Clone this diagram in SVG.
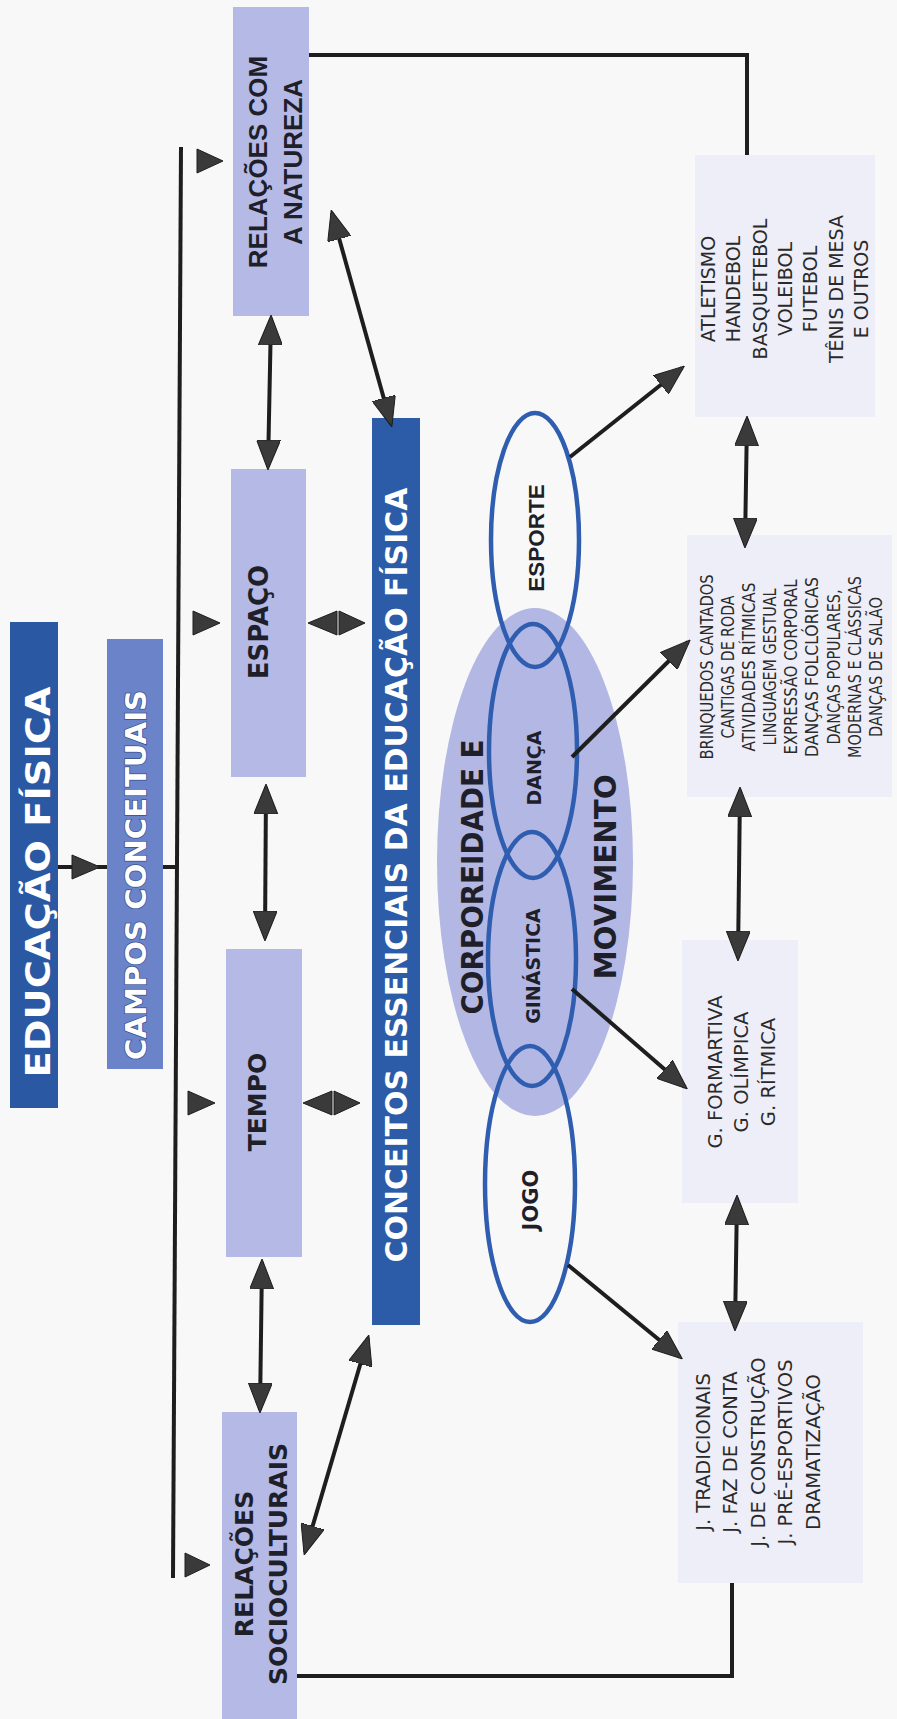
<svg xmlns="http://www.w3.org/2000/svg" width="897" height="1719" viewBox="0 0 897 1719">
<defs>
<style>
.lb{fill:#b5b9e6}
.rb{fill:#eeeef8}
.ln{stroke:#1e1e1e;stroke-width:4;fill:none}
.tri{fill:#3a3a3a;stroke:#1e1e1e;stroke-width:1}
.hd{font-family:"DejaVu Sans",sans-serif;font-weight:bold;fill:#1f1f2a;text-anchor:middle}
.hda{font-family:"Liberation Sans",Arial,sans-serif;font-weight:bold;fill:#1f1f2a;text-anchor:middle}
.wt{font-family:"DejaVu Sans",sans-serif;font-weight:bold;fill:#ffffff;text-anchor:middle}
.ls{font-family:"DejaVu Sans",sans-serif;fill:#2a2a2a;text-anchor:middle}
.ring{fill:none;stroke:#2f5db0;stroke-width:4.5}
</style>
<marker id="ah" viewBox="0 0 30 24" refX="27" refY="12" markerWidth="30" markerHeight="24" markerUnits="userSpaceOnUse" orient="auto-start-reverse">
<path d="M0,0 L30,12 L0,24 z" fill="#3a3a3a" stroke="#1e1e1e" stroke-width="1"/>
</marker>
</defs>
<rect x="0" y="0" width="897" height="1719" fill="#f8f8f9"/>

<g id="educacao-fisica">
<rect x="10" y="622" width="48" height="486" fill="#2b58a3"/>
<g transform="translate(0,882) rotate(-90)"><text class="wt" x="0" y="50" font-size="34" textLength="391" lengthAdjust="spacingAndGlyphs">EDUCAÇÃO FÍSICA</text></g>
</g>

<g id="campos-conceituais">
<rect x="107" y="639" width="56" height="430" fill="#6a83c9"/>
<g transform="translate(0,875) rotate(-90)"><text class="wt" x="0" y="146" font-size="29" textLength="370" lengthAdjust="spacingAndGlyphs" stroke="#34508f" stroke-width="1.5" paint-order="stroke">CAMPOS CONCEITUAIS</text></g>
</g>

<g id="relacoes-natureza">
<rect class="lb" x="233" y="7" width="76" height="309"/>
<g transform="translate(0,162) rotate(-90)">
<text class="hda" x="0" y="267" font-size="26">RELAÇÕES COM</text>
<text class="hda" x="0" y="302" font-size="26">A NATUREZA</text>
</g>
</g>

<g id="espaco">
<rect class="lb" x="231" y="469" width="75" height="308"/>
<g transform="translate(0,622) rotate(-90)"><text class="hd" x="0" y="268" font-size="26">ESPAÇO</text></g>
</g>

<g id="tempo">
<rect class="lb" x="226" y="949" width="76" height="308"/>
<g transform="translate(0,1102) rotate(-90)"><text class="hd" x="0" y="266" font-size="25">TEMPO</text></g>
</g>

<g id="relacoes-socioculturais">
<rect class="lb" x="222" y="1412" width="75" height="310"/>
<g transform="translate(0,1564) rotate(-90)">
<text class="hd" x="0" y="253" font-size="25">RELAÇÕES</text>
<text class="hd" x="0" y="287" font-size="25">SOCIOCULTURAIS</text>
</g>
</g>

<g id="conceitos-essenciais">
<rect x="372" y="418" width="48" height="907" fill="#2c5ba7"/>
<g transform="translate(0,875) rotate(-90)"><text class="wt" x="0" y="407" font-size="30" textLength="775" lengthAdjust="spacingAndGlyphs">CONCEITOS ESSENCIAIS DA EDUCAÇÃO FÍSICA</text></g>
</g>

<g id="corporeidade-movimento">
<ellipse cx="535" cy="862" rx="98" ry="254" fill="#b3b7e3"/>
<g transform="translate(0,877) rotate(-90)">
<text class="hd" x="0" y="483" font-size="31" textLength="275" lengthAdjust="spacingAndGlyphs">CORPOREIDADE E</text>
<text class="hd" x="0" y="616" font-size="31" textLength="205" lengthAdjust="spacingAndGlyphs">MOVIMENTO</text>
</g>
</g>

<g id="esporte">
<ellipse class="ring" cx="535" cy="540" rx="44" ry="127"/>
<g transform="translate(0,538) rotate(-90)"><text class="hda" x="0" y="544" font-size="22.5">ESPORTE</text></g>
</g>
<g id="danca">
<ellipse class="ring" cx="533" cy="751" rx="44" ry="127"/>
<g transform="translate(0,768) rotate(-90)"><text class="hd" x="0" y="541" font-size="19">DANÇA</text></g>
</g>
<g id="ginastica">
<ellipse class="ring" cx="532" cy="959" rx="44" ry="127"/>
<g transform="translate(0,966) rotate(-90)"><text class="hd" x="0" y="540" font-size="19">GINÁSTICA</text></g>
</g>
<g id="jogo">
<ellipse class="ring" cx="530" cy="1184" rx="45" ry="138"/>
<g transform="translate(0,1200) rotate(-90)"><text class="hd" x="0" y="538" font-size="21">JOGO</text></g>
</g>

<g id="lista-esporte">
<rect class="rb" x="695" y="155" width="180" height="262"/>
<g transform="translate(0,289) rotate(-90)">
<text class="ls" x="0" y="715" font-size="19">ATLETISMO</text>
<text class="ls" x="0" y="740" font-size="19">HANDEBOL</text>
<text class="ls" x="0" y="767" font-size="19">BASQUETEBOL</text>
<text class="ls" x="0" y="792" font-size="19">VOLEIBOL</text>
<text class="ls" x="0" y="817" font-size="19">FUTEBOL</text>
<text class="ls" x="0" y="843" font-size="19">TÊNIS DE MESA</text>
<text class="ls" x="0" y="868" font-size="19">E OUTROS</text>
</g>
</g>

<g id="lista-danca">
<rect class="rb" x="687" y="535" width="205" height="262"/>
<g transform="translate(0,667) rotate(-90)">
<text class="ls" x="0" y="713" font-size="18" textLength="185" lengthAdjust="spacingAndGlyphs">BRINQUEDOS CANTADOS</text>
<text class="ls" x="0" y="734" font-size="18" textLength="143" lengthAdjust="spacingAndGlyphs">CANTIGAS DE RODA</text>
<text class="ls" x="0" y="755" font-size="18" textLength="169" lengthAdjust="spacingAndGlyphs">ATIVIDADES RÍTMICAS</text>
<text class="ls" x="0" y="776" font-size="18" textLength="157" lengthAdjust="spacingAndGlyphs">LINGUAGEM GESTUAL</text>
<text class="ls" x="0" y="797" font-size="18" textLength="175" lengthAdjust="spacingAndGlyphs">EXPRESSÃO CORPORAL</text>
<text class="ls" x="0" y="818" font-size="18" textLength="180" lengthAdjust="spacingAndGlyphs">DANÇAS FOLCLÓRICAS</text>
<text class="ls" x="0" y="840" font-size="18" textLength="155" lengthAdjust="spacingAndGlyphs">DANÇAS POPULARES,</text>
<text class="ls" x="0" y="861" font-size="18" textLength="182" lengthAdjust="spacingAndGlyphs">MODERNAS E CLÁSSICAS</text>
<text class="ls" x="0" y="882" font-size="18" textLength="140" lengthAdjust="spacingAndGlyphs">DANÇAS DE SALÃO</text>
</g>
</g>

<g id="lista-ginastica">
<rect class="rb" x="682" y="940" width="116" height="263"/>
<g transform="translate(0,1072) rotate(-90)">
<text class="ls" x="0" y="722" font-size="19.5">G. FORMARTIVA</text>
<text class="ls" x="0" y="748" font-size="19.5">G. OLÍMPICA</text>
<text class="ls" x="0" y="775" font-size="19.5">G. RÍTMICA</text>
</g>
</g>

<g id="lista-jogo">
<rect class="rb" x="678" y="1322" width="185" height="261"/>
<g transform="translate(0,1452) rotate(-90)">
<text class="ls" x="0" y="710" font-size="19.5">J. TRADICIONAIS</text>
<text class="ls" x="0" y="737" font-size="19.5">J. FAZ DE CONTA</text>
<text class="ls" x="0" y="765" font-size="19.5">J. DE CONSTRUÇÃO</text>
<text class="ls" x="0" y="792" font-size="19.5">J. PRÉ-ESPORTIVOS</text>
<text class="ls" x="0" y="820" font-size="19.5">DRAMATIZAÇÃO</text>
</g>
</g>

<g id="connectors">
<line class="ln" x1="58" y1="867" x2="107" y2="867"/>
<polygon class="tri" points="72,855 100,867 72,879"/>
<line class="ln" x1="163" y1="867" x2="178" y2="867"/>
<line class="ln" x1="181" y1="147" x2="173" y2="1578"/>
<polygon class="tri" points="197,149 223,161 197,173"/>
<polygon class="tri" points="193,611 220,623 193,635"/>
<polygon class="tri" points="188,1091 215,1103 188,1115"/>
<polygon class="tri" points="185,1553 210,1565 185,1577"/>
<polygon class="tri" points="337,611 308,623 337,635"/>
<polygon class="tri" points="339,611 365,623 339,635"/>
<polygon class="tri" points="332,1091 303,1103 332,1115"/>
<polygon class="tri" points="334,1091 360,1103 334,1115"/>
<line class="ln" x1="271" y1="318" x2="268" y2="467" marker-start="url(#ah)" marker-end="url(#ah)"/>
<line class="ln" x1="266" y1="787" x2="265" y2="938" marker-start="url(#ah)" marker-end="url(#ah)"/>
<line class="ln" x1="262" y1="1262" x2="260" y2="1410" marker-start="url(#ah)" marker-end="url(#ah)"/>
<line class="ln" x1="332" y1="213" x2="391" y2="424" marker-start="url(#ah)" marker-end="url(#ah)"/>
<line class="ln" x1="305" y1="1552" x2="368" y2="1338" marker-start="url(#ah)" marker-end="url(#ah)"/>
<line class="ln" x1="747" y1="419" x2="745" y2="545" marker-start="url(#ah)" marker-end="url(#ah)"/>
<line class="ln" x1="740" y1="790" x2="738" y2="958" marker-start="url(#ah)" marker-end="url(#ah)"/>
<line class="ln" x1="737" y1="1198" x2="735" y2="1328" marker-start="url(#ah)" marker-end="url(#ah)"/>
<line class="ln" x1="570" y1="457" x2="682" y2="368" marker-end="url(#ah)"/>
<line class="ln" x1="572" y1="757" x2="688" y2="642" marker-end="url(#ah)"/>
<line class="ln" x1="572" y1="989" x2="685" y2="1087" marker-end="url(#ah)"/>
<line class="ln" x1="568" y1="1265" x2="680" y2="1357" marker-end="url(#ah)"/>
<polyline class="ln" points="309,55 747,55 747,155"/>
<polyline class="ln" points="297,1676 732,1676 732,1583"/>
</g>
</svg>
